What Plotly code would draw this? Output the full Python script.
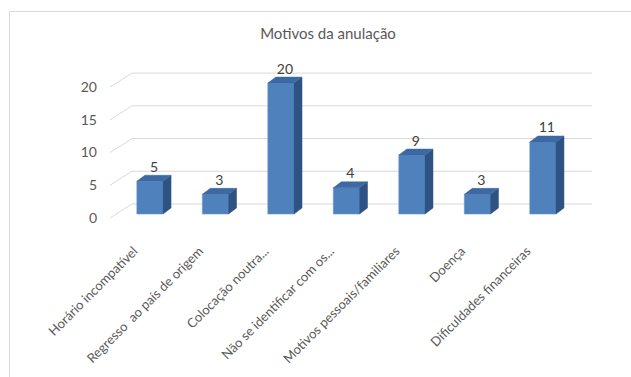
import plotly.graph_objects as go

categories = ["Horário incompatível", "Regresso  ao país de origem", "Colocação noutra...",
              "Não se identificar com os...", "Motivos pessoais/familiares", "Doença",
              "Dificuldades financeiras"]
values = [5, 3, 20, 4, 9, 3, 11]
y_ticks = [0, 5, 10, 15, 20]
title = "Motivos da anulação"

W, H = 631, 377
L, R, T, B = 110, 39, 71, 159
xr = [-0.61, 6.75]
yr = [-0.61, 21.85]

FRONT = "#4f81bd"
SIDE = "#2e5283"
TOP = "#3c68a4"
GRID = "#d9d9d9"
TXT = "#595959"
FONT = "Lato, Carlito, Calibri, sans-serif"

bw = 0.4     # bar width (x units)
dx = 0.122   # depth in x units
dy = 0.92    # depth in y units
back_dx = 0.335
back_dy = 1.53

xs = list(range(len(categories)))
fig = go.Figure()

# back-wall gridlines and floor diagonals
shapes = []
for t in y_ticks:
    shapes.append(dict(type="line", xref="x", yref="y", x0=xr[0] + back_dx, x1=xr[1],
                       y0=t + back_dy, y1=t + back_dy, line=dict(color=GRID, width=1), layer="below"))
    shapes.append(dict(type="line", xref="x", yref="y", x0=xr[0], x1=xr[0] + back_dx,
                       y0=t - 0.61, y1=t + back_dy, line=dict(color=GRID, width=1), layer="below"))

# chart border (top and left)
pw = W - L - R
ph = H - T - B
def px_x(p):
    return (p - L) / pw
def px_y(p):
    return (H - B - p) / ph
shapes.append(dict(type="line", xref="paper", yref="paper", x0=px_x(9.5), x1=px_x(640),
                   y0=px_y(11.5), y1=px_y(11.5), line=dict(color=GRID, width=1)))
shapes.append(dict(type="line", xref="paper", yref="paper", x0=px_x(9.5), x1=px_x(9.5),
                   y0=px_y(11.5), y1=px_y(390), line=dict(color=GRID, width=1)))

# front faces
fig.add_trace(go.Bar(x=xs, y=values, width=bw, marker=dict(color=FRONT, line=dict(color="#6a95cc", width=0.6)),
                     hoverinfo="skip", showlegend=False))

# side and top faces
for x, v in zip(xs, values):
    sx = [x + bw / 2, x + bw / 2 + dx, x + bw / 2 + dx, x + bw / 2, x + bw / 2]
    sy = [0, dy, v + dy, v, 0]
    fig.add_trace(go.Scatter(x=sx, y=sy, fill="toself", fillcolor=SIDE, mode="lines",
                             line=dict(color=SIDE, width=0.5), hoverinfo="skip", showlegend=False))
    tx = [x - bw / 2, x + bw / 2, x + bw / 2 + dx, x - bw / 2 + dx, x - bw / 2]
    ty = [v, v, v + dy, v + dy, v]
    fig.add_trace(go.Scatter(x=tx, y=ty, fill="toself", fillcolor=TOP, mode="lines",
                             line=dict(color=TOP, width=0.5), hoverinfo="skip", showlegend=False))

# data labels
fig.add_trace(go.Scatter(x=[x + dx / 2 for x in xs], y=[v + dy for v in values], mode="text",
                         text=[str(v) for v in values], textposition="top center", cliponaxis=False,
                         textfont=dict(family=FONT, size=14, color="#404040"),
                         hoverinfo="skip", showlegend=False))

fig.update_layout(
    width=W, height=H,
    margin=dict(l=L, r=R, t=T, b=B),
    paper_bgcolor="white", plot_bgcolor="white",
    title=dict(text=title, x=(328) / W, xanchor="center", y=1 - 34 / H, yanchor="middle",
               font=dict(family=FONT, size=15, color=TXT)),
    shapes=shapes,
    font=dict(family=FONT, color=TXT),
)
fig.update_xaxes(range=xr, tickvals=xs, ticktext=categories, tickangle=-45,
                 showgrid=False, zeroline=False, showline=False, ticks="",
                 ticklabelshift=-16, ticklabelstandoff=22,
                 tickfont=dict(family=FONT, size=13, color=TXT))
fig.update_yaxes(range=yr, tickvals=y_ticks, showgrid=False, zeroline=False, showline=False,
                 ticks="", ticklabelstandoff=12, ticklabelshift=4,
                 tickfont=dict(family=FONT, size=14, color=TXT))

fig.write_html("out.html")
